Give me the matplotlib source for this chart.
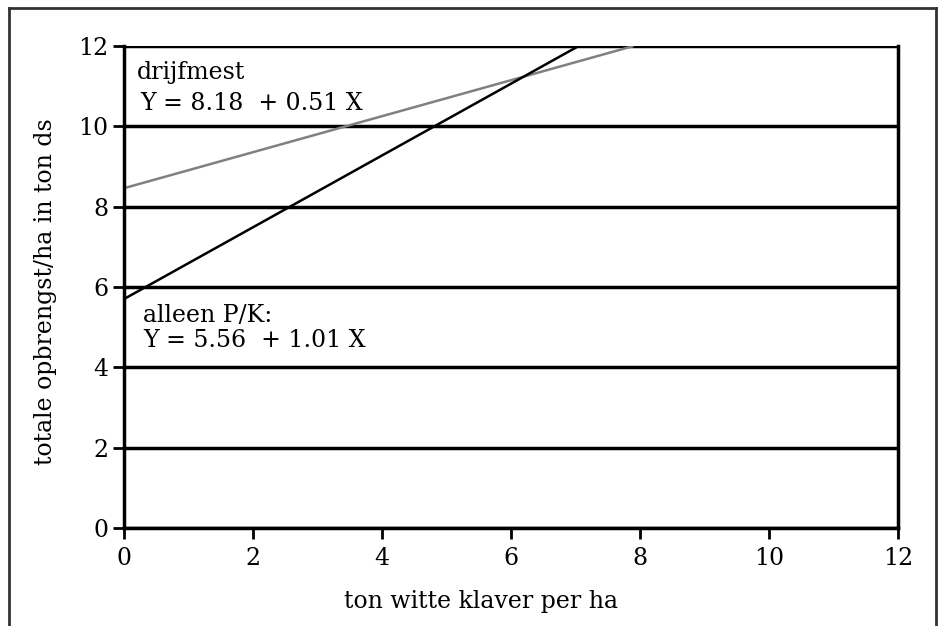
import matplotlib
matplotlib.use("Agg")
import matplotlib.pyplot as plt
from matplotlib.lines import Line2D

# Data
x_ticks = [0, 2, 4, 6, 8, 10, 12]
y_ticks = [0, 2, 4, 6, 8, 10, 12]
drijfmest_x = [0, 7.9]
drijfmest_y = [8.46, 12]
pk_x = [0, 7.05]
pk_y = [5.7, 12]
label_drijfmest = ["drijfmest", "Y = 8.18  + 0.51 X"]
label_pk = ["alleen P/K:", "Y = 5.56  + 1.01 X"]
xlabel = "ton witte klaver per ha"
ylabel = "totale opbrengst/ha in ton ds"

plt.rcParams['font.family'] = ['DejaVu Serif']

fig = plt.figure(figsize=(9.4, 6.26), dpi=100)
ax = fig.add_axes([124/940, 1 - 528/626, (898-124)/940, (528-46)/626])

ax.plot(drijfmest_x, drijfmest_y, color='#808080', lw=1.8, solid_capstyle='butt')
ax.plot(pk_x, pk_y, color='black', lw=1.8, solid_capstyle='butt')

ax.set_xlim(0, 12)
ax.set_ylim(0, 12)
ax.set_xticks(x_ticks)
ax.set_yticks(y_ticks)
ax.set_xticklabels([str(v) for v in x_ticks])
ax.set_yticklabels([str(v) for v in y_ticks])
ax.tick_params(axis='both', direction='out', length=8, width=2, color='black',
               labelsize=17)
ax.tick_params(axis='x', pad=6)
ax.tick_params(axis='y', pad=3)
for g in y_ticks:
    ax.axhline(g, color='black', lw=2.5, zorder=1)
ax.spines['top'].set_visible(False)
for s in ['left', 'right', 'bottom']:
    ax.spines[s].set_linewidth(2.5)
    ax.spines[s].set_color('black')

ax.text(0.2, 11.33, label_drijfmest[0], fontsize=17, va='center', ha='left')
ax.text(0.25, 10.58, label_drijfmest[1], fontsize=17, va='center', ha='left')
ax.text(0.3, 5.30, label_pk[0], fontsize=17, va='center', ha='left')
ax.text(0.3, 4.68, label_pk[1], fontsize=17, va='center', ha='left')

ax.set_xlabel(xlabel, fontsize=17)
ax.set_ylabel(ylabel, fontsize=17)
ax.xaxis.set_label_coords((481 - 124) / 774, -0.128)
ax.yaxis.set_label_coords(-0.087, 0.49)

# figure border
for xs, ys in [([9/940, 9/940], [0, 1 - 8/626]),
               ([9/940, 936/940], [1 - 8/626, 1 - 8/626]),
               ([936/940, 936/940], [1 - 8/626, 0])]:
    fig.add_artist(Line2D(xs, ys, transform=fig.transFigure, color='#333333', lw=2))

fig.savefig("out.png", dpi=100, facecolor='white')
